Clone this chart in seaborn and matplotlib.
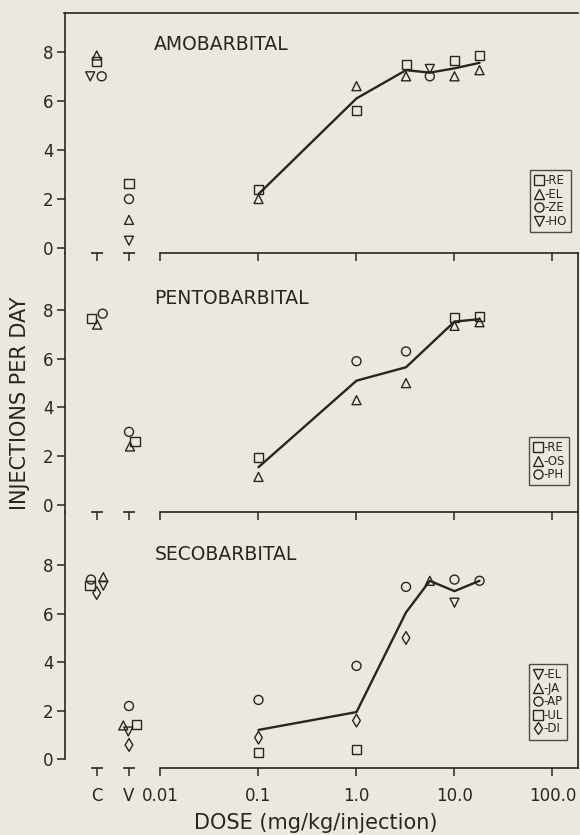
import numpy as np
import pandas as pd
import matplotlib
matplotlib.use("Agg")
import matplotlib.pyplot as plt
import seaborn as sns
from matplotlib.lines import Line2D
from matplotlib.transforms import blended_transform_factory

nan = np.nan

# ---------------- data ----------------
CONDITIONS = ["C", "V", 0.1, 1.0, 3.2, 5.6, 10.0, 18.0]

AMO_RE = [7.6, 2.65, 2.4, 5.6, 7.5, nan, 7.65, 7.85]
AMO_EL = [7.85, 1.15, 2.0, 6.6, 7.0, nan, 7.0, 7.25]
AMO_ZE = [7.0, 2.0, nan, nan, nan, 7.0, nan, nan]
AMO_HO = [7.0, 0.3, nan, nan, nan, 7.3, nan, nan]

PENTO_RE = [7.65, 2.6, 1.95, nan, nan, nan, 7.7, 7.75]
PENTO_OS = [7.4, 2.4, 1.15, 4.3, 5.0, nan, 7.35, 7.5]
PENTO_PH = [7.85, 3.0, nan, 5.9, 6.3, nan, nan, nan]

SECO_EL = [7.15, 1.15, nan, nan, nan, nan, 6.45, nan]
SECO_JA = [7.5, 1.4, nan, nan, nan, 7.35, nan, nan]
SECO_AP = [7.4, 2.2, 2.45, 3.85, 7.1, nan, 7.4, 7.35]
SECO_UL = [7.15, 1.45, 0.3, 0.4, nan, nan, nan, nan]
SECO_DI = [6.85, 0.6, 0.9, 1.6, 5.0, nan, nan, nan]

DRUGS = ["AMOBARBITAL", "PENTOBARBITAL", "SECOBARBITAL"]
X_TICK_VALUES = [0.01, 0.1, 1.0, 10.0, 100.0]
X_TICK_LABELS = ["0.01", "0.1", "1.0", "10.0", "100.0"]
Y_TICKS = [0, 2, 4, 6, 8]

PANELS = [
    {"subjects": {"RE": AMO_RE, "EL": AMO_EL, "ZE": AMO_ZE, "HO": AMO_HO},
     "markers": {"RE": "s", "EL": "^", "ZE": "o", "HO": "v"}},
    {"subjects": {"RE": PENTO_RE, "OS": PENTO_OS, "PH": PENTO_PH},
     "markers": {"RE": "s", "OS": "^", "PH": "o"}},
    {"subjects": {"EL": SECO_EL, "JA": SECO_JA, "AP": SECO_AP, "UL": SECO_UL, "DI": SECO_DI},
     "markers": {"EL": "v", "JA": "^", "AP": "o", "UL": "s", "DI": "d"}},
]

# ---------------- layout / style ----------------
W, H, DPI = 580, 835, 100
BG = "#ECE8DF"
INK = "#2B2422"
PX_PER_DECADE = 98.0
ONE_PX = 356.5            # pixel x of dose 1.0
LEFT_PX, RIGHT_PX = 64.5, 578.0
C_PX, V_PX = 96.7, 129.0

# small horizontal dodges (pixels) for overlapping C/V markers
DODGE = [
    {"C": {"HO": -6.5, "ZE": 5.0}, "V": {}},
    {"C": {"RE": -5.0, "OS": 0.5, "PH": 6.0}, "V": {"OS": 1.0, "RE": 6.0}},
    {"C": {"AP": -5.7, "UL": -6.7, "JA": 6.6, "EL": 6.6}, "V": {"JA": -5.7, "UL": 7.7, "EL": -0.7}},
]

# panel pixel extents (top, bottom) and y-limits
PANEL_PX = [(13, 253), (253, 512), (512, 768)]
YLIMS = [(-0.20, 9.58), (-0.29, 10.34), (-0.35, 10.18)]
TITLE_PX = [(154, 44), (154, 298), (155, 555)]
LEGEND_PX = [(571, 170), (569, 437), (567, 664)]


def px_to_log(px):
    return (px - ONE_PX) / PX_PER_DECADE


XLIM = (10 ** px_to_log(LEFT_PX), 10 ** px_to_log(RIGHT_PX))
C_POS = px_to_log(C_PX)
V_POS = px_to_log(V_PX)

sns.set_theme(style="white")
plt.rcParams["font.family"] = ["DejaVu Sans"]
plt.rcParams["axes.linewidth"] = 1.2

fig = plt.figure(figsize=(W / DPI, H / DPI), dpi=DPI, facecolor=BG)


def fx(px):
    return px / W


def fy(py):
    return 1 - py / H


for i, panel in enumerate(PANELS):
    top_px, bot_px = PANEL_PX[i]
    ax = fig.add_axes([fx(LEFT_PX), fy(bot_px), fx(RIGHT_PX - LEFT_PX), (bot_px - top_px) / H])
    ax.set_facecolor("none")

    rows = []
    for subj, vals in panel["subjects"].items():
        for cond, v in zip(CONDITIONS, vals):
            if np.isnan(v):
                continue
            if cond == "C":
                x = 10 ** (C_POS + DODGE[i]["C"].get(subj, 0.0) / PX_PER_DECADE)
                kind = "ctrl"
            elif cond == "V":
                x = 10 ** (V_POS + DODGE[i]["V"].get(subj, 0.0) / PX_PER_DECADE)
                kind = "ctrl"
            else:
                x = float(cond)
                kind = "dose"
            rows.append({"subject": subj, "x": x, "y": v, "kind": kind})
    df = pd.DataFrame(rows)

    ax.set_xscale("log")
    # mean line over doses
    sns.lineplot(data=df[df["kind"] == "dose"], x="x", y="y", estimator="mean",
                 errorbar=None, color=INK, lw=1.7, ax=ax, legend=False, zorder=2)
    sns.scatterplot(data=df, x="x", y="y", style="subject",
                    markers=panel["markers"], style_order=list(panel["markers"].keys()),
                    s=42, facecolor="none", edgecolor=INK, linewidth=1.0,
                    ax=ax, legend=False, zorder=3)
    for coll in ax.collections:
        coll.set_facecolor("none")
        coll.set_edgecolor(INK)
        coll.set_clip_on(False)

    ax.set_xlim(*XLIM)
    ax.set_ylim(*YLIMS[i])
    ax.set_xlabel("")
    ax.set_ylabel("")

    # spines
    for sp in ax.spines.values():
        sp.set_color(INK)
        sp.set_linewidth(1.2)
    ax.spines["top"].set_visible(i == 0)
    ax.spines["right"].set_visible(i != 0)
    ax.spines["bottom"].set_bounds(0.01, XLIM[1])
    if i == 2:
        ax.spines["left"].set_bounds(0, YLIMS[i][1])

    # ticks
    ax.set_yticks(Y_TICKS)
    ax.set_yticklabels([str(t) for t in Y_TICKS])
    ax.set_xticks([10 ** C_POS, 10 ** V_POS] + X_TICK_VALUES)
    ax.xaxis.set_minor_locator(matplotlib.ticker.NullLocator())
    ax.tick_params(axis="y", direction="out", length=6, width=1.1, color=INK,
                   labelsize=12, labelcolor=INK, pad=2, left=True)
    ax.tick_params(axis="x", direction="out", length=6, width=1.1, color=INK,
                   labelsize=12, labelcolor=INK, pad=8, bottom=True)
    if i == 2:
        ax.set_xticklabels(["C", "V"] + X_TICK_LABELS)
    else:
        ax.set_xticklabels([""] * 7)

    # horizontal caps on C and V ticks (the "T" marks)
    trans = blended_transform_factory(ax.transData, ax.transAxes)
    ax.plot([10 ** C_POS, 10 ** V_POS], [0, 0], ls="none", marker="_", ms=8,
            mew=1.2, color=INK, transform=trans, clip_on=False)

    # title
    fig.text(fx(TITLE_PX[i][0]), fy(TITLE_PX[i][1]), DRUGS[i], ha="left", va="center",
             fontsize=13.5, color=INK)

    # legend
    handles = [Line2D([], [], ls="none", marker=m, ms=6.5, mfc="none", mec=INK, mew=1.0)
               for m in panel["markers"].values()]
    labels = ["-" + s for s in panel["markers"].keys()]
    leg = ax.legend(handles, labels, loc="upper right",
                    bbox_to_anchor=(fx(LEGEND_PX[i][0]), fy(LEGEND_PX[i][1])),
                    bbox_transform=fig.transFigure, borderaxespad=0, fontsize=8.5,
                    frameon=True, fancybox=False, handlelength=0.8, handletextpad=0.1,
                    labelspacing=0.05, borderpad=0.35, labelcolor=INK)
    leg.get_frame().set_edgecolor(INK)
    leg.get_frame().set_facecolor(BG)
    leg.get_frame().set_linewidth(1.0)

fig.text(fx(20), fy(403), "INJECTIONS PER DAY", rotation=90, ha="center", va="center",
         fontsize=15, color=INK)
fig.text(fx(316), fy(823), "DOSE (mg/kg/injection)", ha="center", va="center",
         fontsize=15, color=INK)

fig.savefig("out.png", dpi=DPI, facecolor=BG)
